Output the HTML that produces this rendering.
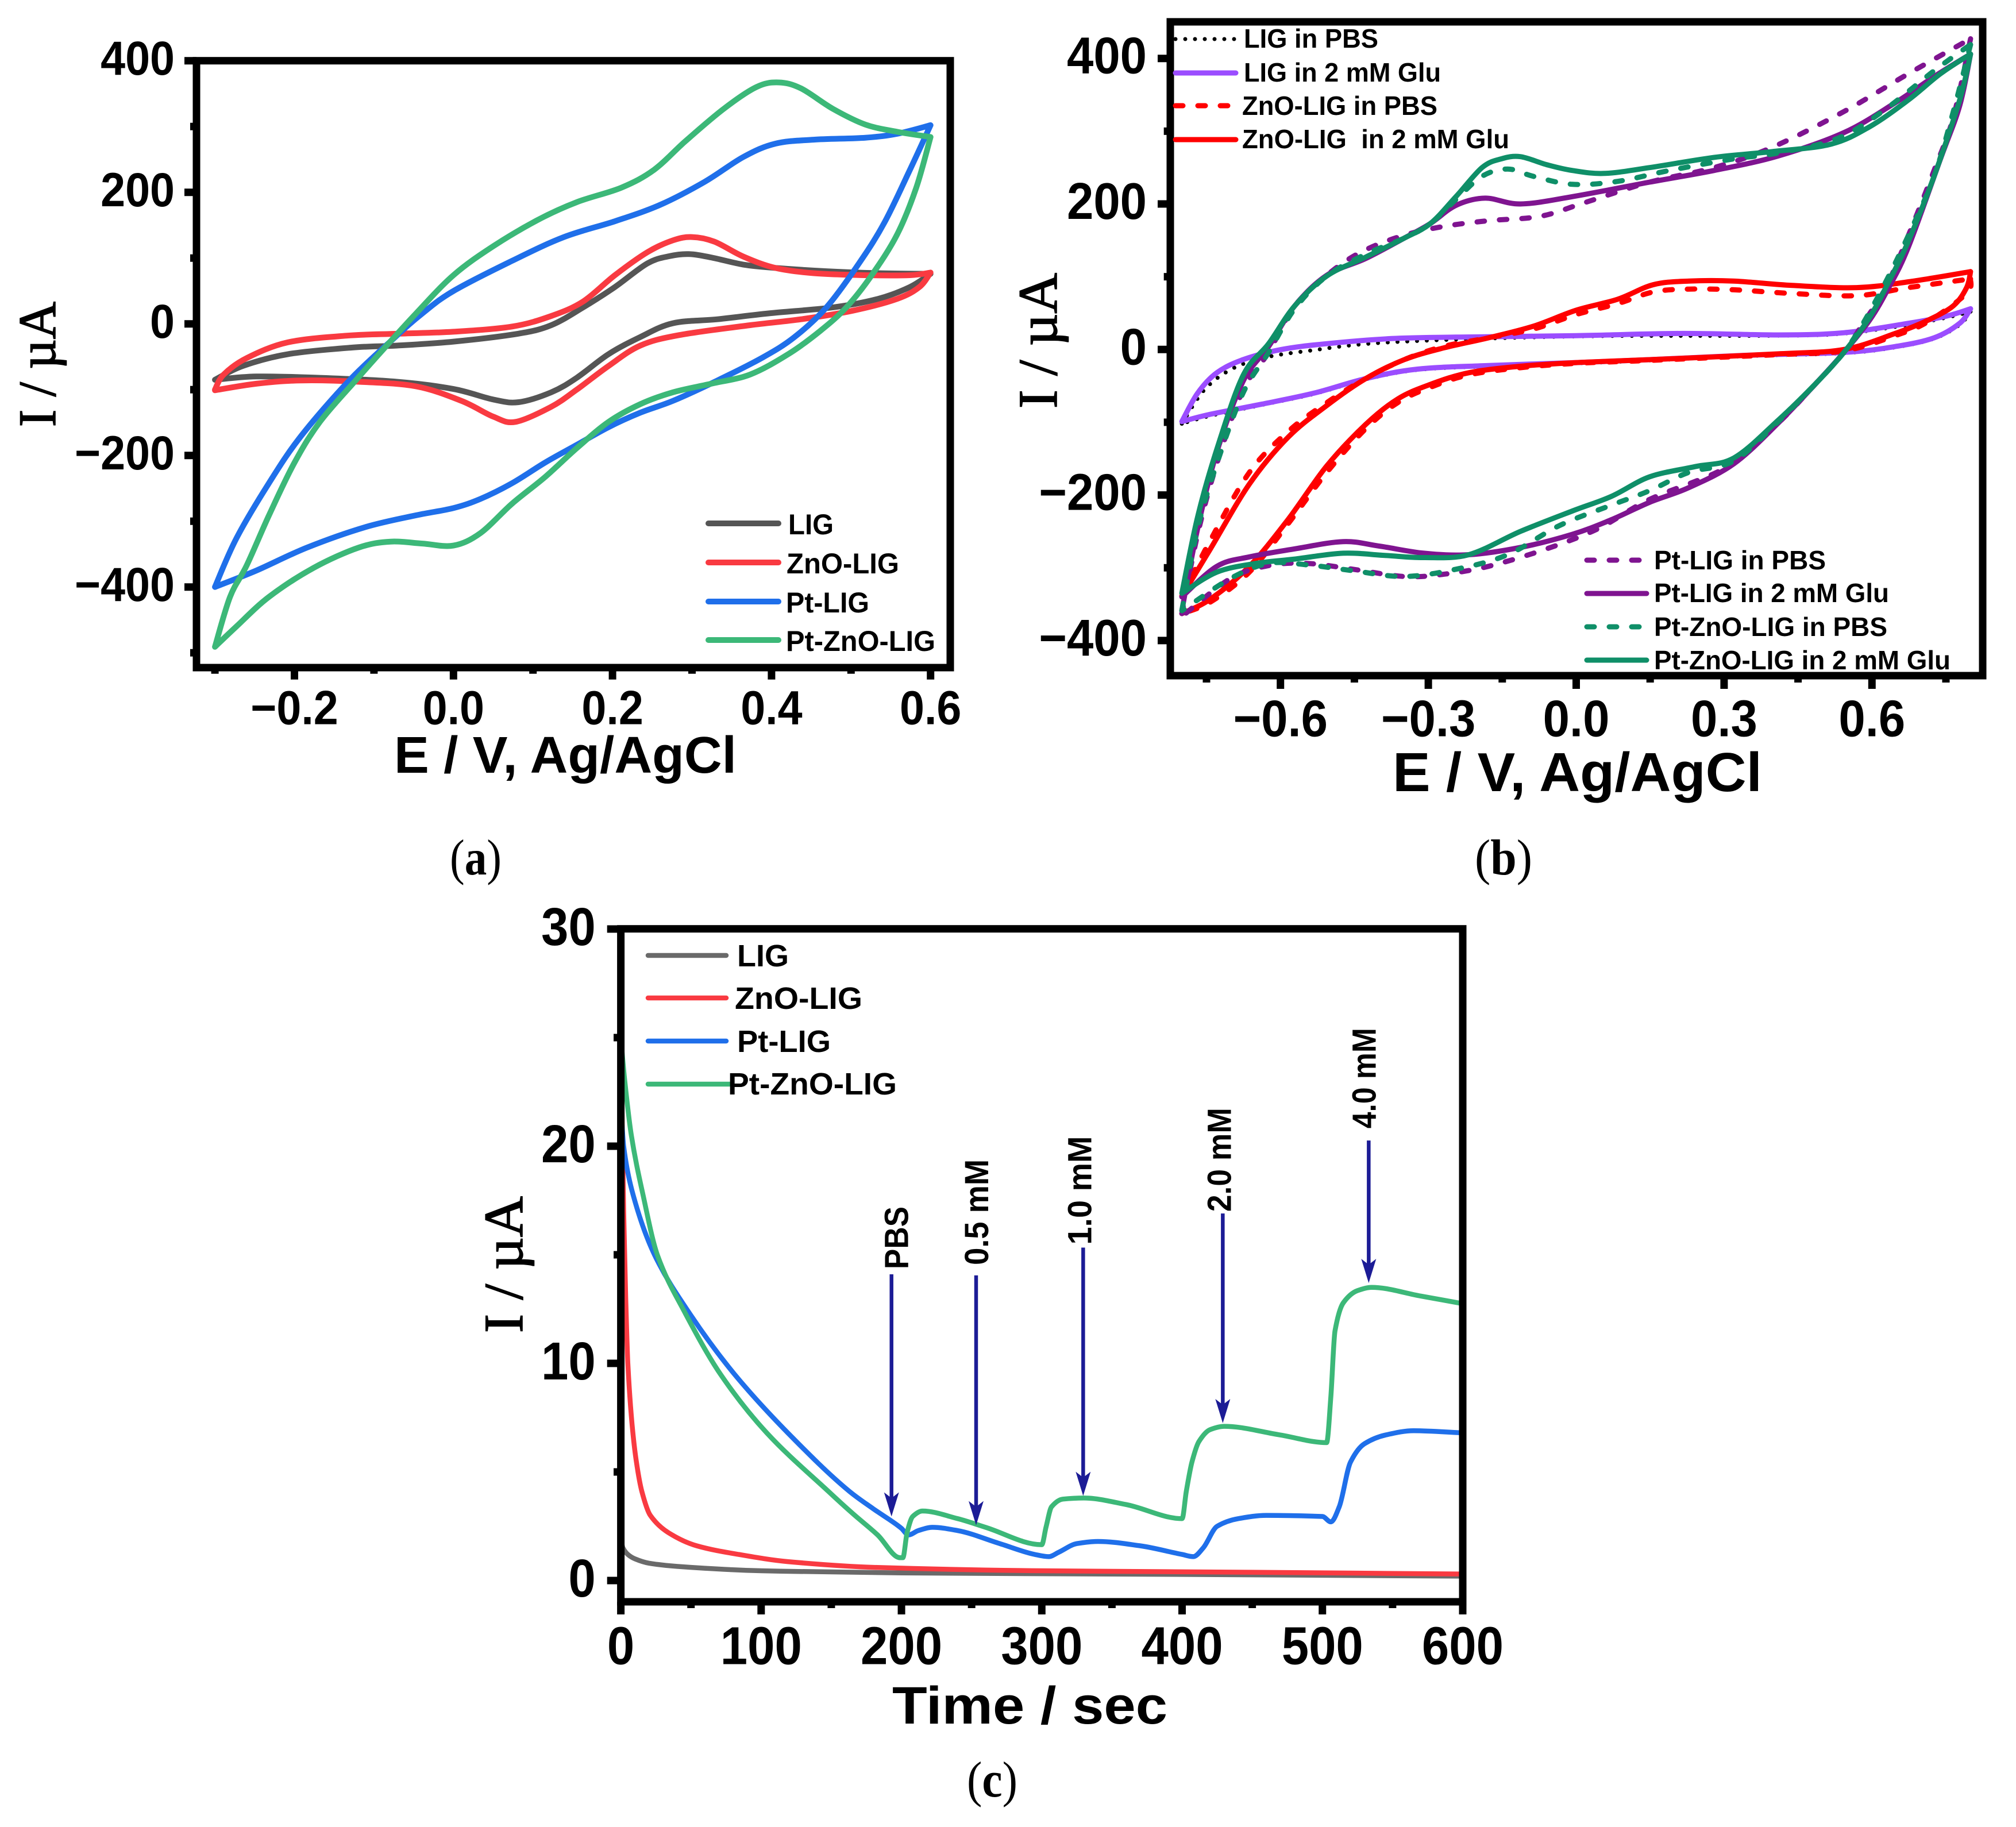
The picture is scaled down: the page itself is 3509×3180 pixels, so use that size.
<!DOCTYPE html>
<html lang="en">
<head>
<meta charset="utf-8">
<title>Cyclic voltammetry and chronoamperometry panels</title>
<style>
html,body{margin:0;padding:0;background:#fff;}
svg{display:block;}
text{font-family:"Liberation Sans",sans-serif;font-weight:700;fill:#000;}
.serif{font-family:"Liberation Serif",serif;}
.ytitle{font-weight:400;stroke:#000;stroke-width:1.6px;}
</style>
</head>
<body>
<svg id="fig" xmlns="http://www.w3.org/2000/svg" width="3509" height="3180" viewBox="0 0 3509 3180">
<rect width="3509" height="3180" fill="#fff"/>
<g id="panelA"></g>
<g id="panelB"></g>
<g id="panelC"></g>

<!-- Panel captions -->
<text class="serif" x="783" y="1522" font-size="88" textLength="90" lengthAdjust="spacingAndGlyphs" style="font-weight:400">(<tspan style="font-weight:700">a</tspan>)</text>
<text class="serif" x="2567" y="1522" font-size="88" textLength="100" lengthAdjust="spacingAndGlyphs" style="font-weight:400">(<tspan style="font-weight:700">b</tspan>)</text>
<text class="serif" x="1683" y="3127" font-size="88" textLength="88" lengthAdjust="spacingAndGlyphs" style="font-weight:400">(<tspan style="font-weight:700">c</tspan>)</text>

<!-- Axis titles -->
<text x="686" y="1345" font-size="90" textLength="596" lengthAdjust="spacingAndGlyphs">E / V, Ag/AgCl</text>
<text class="serif ytitle" transform="translate(96,743) rotate(-90)" font-size="92" textLength="218" lengthAdjust="spacingAndGlyphs">I / µA</text>
<text x="2424" y="1377" font-size="96" textLength="643" lengthAdjust="spacingAndGlyphs">E / V, Ag/AgCl</text>
<text class="serif ytitle" transform="translate(1839,711) rotate(-90)" font-size="96" textLength="236" lengthAdjust="spacingAndGlyphs">I / µA</text>
<text x="1553" y="3000" font-size="92" textLength="479" lengthAdjust="spacingAndGlyphs">Time / sec</text>
<text class="serif ytitle" transform="translate(909,2320) rotate(-90)" font-size="96" textLength="238" lengthAdjust="spacingAndGlyphs">I / µA</text>

<!-- Legend panel a -->
<g stroke-width="10" stroke-linecap="round" fill="none">
<line x1="1233" x2="1355" y1="911" y2="911" stroke="#555555"/>
<line x1="1233" x2="1355" y1="979" y2="979" stroke="#f93a41"/>
<line x1="1233" x2="1355" y1="1047" y2="1047" stroke="#1f6fea"/>
<line x1="1233" x2="1355" y1="1114" y2="1114" stroke="#3cb878"/>
</g>
<text x="1372" y="930" font-size="50" textLength="79" lengthAdjust="spacingAndGlyphs">LIG</text>
<text x="1369" y="998" font-size="50" textLength="196" lengthAdjust="spacingAndGlyphs">ZnO-LIG</text>
<text x="1368" y="1066" font-size="50" textLength="145" lengthAdjust="spacingAndGlyphs">Pt-LIG</text>
<text x="1368" y="1133" font-size="50" textLength="260" lengthAdjust="spacingAndGlyphs">Pt-ZnO-LIG</text>

<!-- Legend panel c -->
<g stroke-width="8.5" stroke-linecap="round" fill="none">
<line x1="1128" x2="1264" y1="1663" y2="1663" stroke="#6a6a6a"/>
<line x1="1128" x2="1264" y1="1737" y2="1737" stroke="#f93a41"/>
<line x1="1128" x2="1264" y1="1812" y2="1812" stroke="#1f6fea"/>
<line x1="1128" x2="1272" y1="1887" y2="1887" stroke="#3cb878"/>
</g>
<text x="1283" y="1682" font-size="54" textLength="90" lengthAdjust="spacingAndGlyphs">LIG</text>
<text x="1279" y="1756" font-size="54" textLength="222" lengthAdjust="spacingAndGlyphs">ZnO-LIG</text>
<text x="1283" y="1831" font-size="54" textLength="163" lengthAdjust="spacingAndGlyphs">Pt-LIG</text>
<text x="1267" y="1905" font-size="54" textLength="294" lengthAdjust="spacingAndGlyphs">Pt-ZnO-LIG</text>

<g id="legendB">
<line x1="2046" x2="2151" y1="68" y2="68" stroke="#000" stroke-width="7" stroke-linecap="round" stroke-dasharray="0 17"/>
<line x1="2046" x2="2151" y1="127" y2="127" stroke="#9b4dff" stroke-width="9" stroke-linecap="round"/>
<line x1="2046" x2="2142" y1="184" y2="184" stroke="#ff0000" stroke-width="9" stroke-linecap="round" stroke-dasharray="13 26"/>
<line x1="2046" x2="2151" y1="243" y2="243" stroke="#ff0000" stroke-width="9" stroke-linecap="round"/>
<text x="2165" y="83" font-size="46" textLength="234" lengthAdjust="spacingAndGlyphs">LIG in PBS</text>
<text x="2165" y="142" font-size="46" textLength="343" lengthAdjust="spacingAndGlyphs">LIG in 2 mM Glu</text>
<text x="2162" y="200" font-size="46" textLength="340" lengthAdjust="spacingAndGlyphs">ZnO-LIG in PBS</text>
<text x="2162" y="258" font-size="46" textLength="465" lengthAdjust="spacingAndGlyphs" xml:space="preserve">ZnO-LIG  in 2 mM Glu</text>
<line x1="2762" x2="2866" y1="975" y2="975" stroke="#7f1490" stroke-width="9" stroke-linecap="round" stroke-dasharray="13 26"/>
<line x1="2762" x2="2866" y1="1033" y2="1033" stroke="#7f1490" stroke-width="9" stroke-linecap="round"/>
<line x1="2762" x2="2866" y1="1091" y2="1091" stroke="#0f8f68" stroke-width="9" stroke-linecap="round" stroke-dasharray="13 26"/>
<line x1="2762" x2="2866" y1="1149" y2="1149" stroke="#0f8f68" stroke-width="9" stroke-linecap="round"/>
<text x="2879" y="991" font-size="46" textLength="299" lengthAdjust="spacingAndGlyphs">Pt-LIG in PBS</text>
<text x="2879" y="1048" font-size="46" textLength="409" lengthAdjust="spacingAndGlyphs">Pt-LIG in 2 mM Glu</text>
<text x="2879" y="1107" font-size="46" textLength="406" lengthAdjust="spacingAndGlyphs">Pt-ZnO-LIG in PBS</text>
<text x="2879" y="1165" font-size="46" textLength="516" lengthAdjust="spacingAndGlyphs">Pt-ZnO-LIG in 2 mM Glu</text>
</g>
</svg>

<script>
// ---------- Panel (a) data: potential (V) and current (uA), one closed cycle each ----------
const aLigE=[-0.3,-0.265,-0.208,-0.127,-0.071,0,0.081,0.123,0.163,0.203,0.244,0.272,0.296,0.324,0.365,0.405,0.469,0.534,0.6,0.574,0.534,0.477,0.397,0.332,0.276,0.235,0.195,0.155,0.123,0.082,0.05,0,-0.071,-0.168,-0.248,-0.3];
const aLigI=[-85,-64,-46,-36,-33,-27,-15,-2,25,56,92,103,106,101,90,85,80,77,76,56,38,25,16,7,1,-20,-46,-82,-104,-119,-115,-99,-88,-82,-80,-85];
const aZnoE=[-0.3,-0.289,-0.26,-0.208,-0.135,-0.071,0,0.074,0.123,0.163,0.203,0.244,0.276,0.3,0.328,0.365,0.405,0.453,0.518,0.574,0.6,0.586,0.558,0.502,0.437,0.373,0.284,0.235,0.195,0.155,0.123,0.078,0.05,0.01,-0.047,-0.119,-0.192,-0.248,-0.3];
const aZnoI=[-100,-77,-52,-28,-18,-15,-12,-4,12,34,74,109,127,132,125,102,85,77,74,74,78,56,38,20,7,-2,-17,-33,-64,-100,-126,-149,-141,-117,-95,-88,-86,-91,-101];
const aPtE=[-0.3,-0.273,-0.232,-0.192,-0.131,-0.075,-0.039,0,0.074,0.139,0.203,0.26,0.316,0.365,0.405,0.453,0.518,0.558,0.6,0.574,0.542,0.51,0.469,0.429,0.389,0.332,0.276,0.235,0.195,0.155,0.115,0.074,0.034,0,-0.047,-0.111,-0.184,-0.248,-0.3];
const aPtI=[-400,-326,-242,-171,-86,-22,16,50,96,132,156,181,216,254,274,280,283,289,302,234,154,92,25,-20,-51,-86,-117,-135,-157,-184,-211,-242,-266,-280,-291,-309,-340,-375,-400];
const aPtZnoE=[-0.3,-0.281,-0.26,-0.232,-0.2,-0.168,-0.123,-0.087,-0.047,0,0.05,0.106,0.155,0.211,0.252,0.292,0.34,0.381,0.409,0.437,0.477,0.518,0.558,0.6,0.582,0.558,0.526,0.494,0.461,0.421,0.373,0.324,0.276,0.235,0.195,0.155,0.115,0.074,0.034,0,-0.039,-0.079,-0.119,-0.176,-0.232,-0.273,-0.3];
const aPtZnoI=[-491,-415,-367,-291,-211,-149,-86,-37,16,74,118,158,185,207,234,278,327,360,367,358,327,303,292,284,207,136,74,25,-11,-46,-77,-91,-104,-122,-149,-189,-233,-273,-318,-337,-334,-331,-340,-371,-415,-460,-491];

// ---------- Panel (b) data ----------
const bLigPbsE=[-0.8,-0.755,-0.702,-0.637,-0.545,-0.375,0,0.41,0.543,0.674,0.752,0.8,0.778,0.726,0.647,0.543,0.346,0.149,0,-0.178,-0.322,-0.427,-0.532,-0.637,-0.742,-0.8];
const bLigPbsI=[-102,-56,-28,-12,-2,10,18,19,22,34,44,52,34,15,3,-5,-9,-15,-19,-23,-28,-41,-61,-76,-91,-102];
const bLigGluE=[-0.8,-0.768,-0.729,-0.676,-0.598,-0.506,-0.375,-0.244,0,0.215,0.41,0.543,0.674,0.752,0.8,0.778,0.726,0.647,0.543,0.346,0.149,0,-0.178,-0.322,-0.427,-0.532,-0.637,-0.742,-0.8];
const bLigGluI=[-99,-60,-32,-14,0,8,15,17,19,22,20,23,36,46,56,36,16,4,-4,-8,-14,-18,-22,-27,-40,-60,-75,-89,-99];
const bZnoPbsE=[-0.8,-0.742,-0.663,-0.585,-0.506,-0.427,-0.349,-0.27,-0.178,-0.087,0,0.084,0.156,0.228,0.32,0.438,0.569,0.674,0.8,0.792,0.713,0.647,0.543,0.41,0.149,0,-0.113,-0.218,-0.296,-0.362,-0.427,-0.506,-0.585,-0.663,-0.742,-0.8];
const bZnoPbsI=[-339,-262,-169,-113,-73,-40,-14,4,16,28,48,63,79,83,82,77,74,85,97,77,38,19,-2,-7,-15,-19,-25,-35,-52,-73,-109,-169,-240,-306,-347,-363];
const bZnoGluE=[-0.8,-0.742,-0.663,-0.585,-0.506,-0.427,-0.349,-0.27,-0.178,-0.087,0,0.084,0.156,0.228,0.32,0.438,0.569,0.674,0.8,0.792,0.765,0.713,0.647,0.543,0.41,0.149,0,-0.113,-0.218,-0.296,-0.362,-0.427,-0.506,-0.585,-0.663,-0.742,-0.8];
const bZnoGluI=[-339,-274,-185,-121,-77,-40,-14,2,16,32,54,69,89,94,94,88,85,93,107,85,60,40,22,0,-6,-14,-18,-23,-32,-48,-68,-103,-160,-234,-298,-343,-363];
const bPtPbsE=[-0.8,-0.768,-0.729,-0.676,-0.624,-0.571,-0.493,-0.427,-0.349,-0.27,-0.178,-0.073,0.018,0.149,0.28,0.398,0.543,0.674,0.8,0.765,0.726,0.674,0.628,0.582,0.543,0.49,0.41,0.307,0.149,0.045,-0.06,-0.178,-0.27,-0.349,-0.453,-0.545,-0.624,-0.702,-0.8];
const bPtPbsI=[-363,-254,-157,-56,-4,60,109,137,157,169,177,183,202,230,250,278,327,379,427,319,246,157,85,36,-4,-44,-101,-161,-206,-246,-274,-298,-309,-312,-302,-294,-297,-315,-367];
const bPtGluE=[-0.8,-0.768,-0.729,-0.676,-0.624,-0.571,-0.506,-0.427,-0.349,-0.296,-0.244,-0.185,-0.113,-0.008,0.149,0.28,0.41,0.543,0.647,0.726,0.8,0.778,0.739,0.674,0.634,0.595,0.543,0.49,0.41,0.32,0.228,0.149,0.071,-0.008,-0.113,-0.218,-0.309,-0.401,-0.473,-0.571,-0.663,-0.729,-0.8];
const bPtGluI=[-359,-246,-141,-44,4,60,102,125,153,173,198,208,200,210,230,246,266,298,339,375,406,335,262,141,85,40,-4,-44,-101,-157,-190,-210,-234,-254,-272,-282,-280,-270,-264,-274,-285,-298,-340];
const bPtZnoPbsE=[-0.8,-0.768,-0.729,-0.676,-0.624,-0.571,-0.506,-0.427,-0.349,-0.296,-0.244,-0.191,-0.139,-0.087,-0.008,0.084,0.189,0.32,0.41,0.53,0.621,0.726,0.8,0.765,0.726,0.674,0.628,0.582,0.543,0.49,0.41,0.32,0.228,0.149,0.071,-0.034,-0.139,-0.244,-0.349,-0.453,-0.545,-0.624,-0.702,-0.8];
const bPtZnoPbsI=[-359,-246,-157,-60,-4,56,101,131,153,173,206,238,248,238,227,231,246,262,270,290,327,383,419,327,238,157,93,36,-4,-44,-99,-153,-169,-194,-214,-242,-282,-302,-312,-304,-296,-294,-315,-359];
const bPtZnoGluE=[-0.8,-0.768,-0.729,-0.676,-0.624,-0.571,-0.506,-0.427,-0.349,-0.296,-0.244,-0.191,-0.152,-0.113,-0.06,-0.008,0.058,0.149,0.28,0.398,0.516,0.595,0.674,0.739,0.8,0.778,0.726,0.674,0.634,0.595,0.543,0.49,0.41,0.32,0.241,0.149,0.071,-0.008,-0.113,-0.218,-0.309,-0.388,-0.473,-0.571,-0.65,-0.729,-0.8];
const bPtZnoGluI=[-335,-230,-137,-36,8,60,101,127,153,173,210,250,262,265,254,246,242,250,264,272,282,306,343,379,406,343,238,149,93,44,-4,-44,-97,-149,-161,-175,-202,-222,-250,-282,-286,-283,-280,-288,-294,-306,-335];

// ---------- Panel (c) data: time (s) and current (uA) ----------
const cLigT=[0,0.5,1.5,5,10,20,40,100,200,400,600];
const cLigI=[1.7,1.7,1.5,1.2,1.0,0.8,0.65,0.45,0.35,0.28,0.2];
const cZnoT=[0.3,1,2,3.5,5,8,11,15,21,34,54,84,119,183,300,450,600];
const cZnoI=[25,21,17,13,10,7.2,5.5,4.1,3,2.2,1.6,1.2,0.87,0.6,0.45,0.38,0.3];
const cPtT=[0,2,9,24,49,81,119,163,180,196,200,205,212,222,240,270,295,305,312,325,340,370,400,408,415,425,440,460,500,506,512,520,530,545,565,600];
const cPtI=[22,20,17.7,15,12.3,9.5,6.8,4.1,3.3,2.6,2.4,2.1,2.3,2.45,2.3,1.7,1.2,1.1,1.3,1.7,1.8,1.6,1.2,1.1,1.5,2.5,2.85,3.0,2.95,2.7,3.4,5.45,6.3,6.7,6.9,6.8];
const cPtZnoT=[0,2.5,7.5,16,26,46,71,104,148,165,183,199,201,204,208,215,240,260,300,303,307,315,330,360,400,403,407,412,420,430,470,503,506,509,515,525,535,570,600];
const cPtZnoI=[25,23.2,20.5,17.7,15,12.3,9.5,6.8,4.1,3.1,2.1,1.05,1.05,2.2,2.95,3.2,2.85,2.45,1.65,2.45,3.4,3.75,3.8,3.5,2.85,4.1,5.45,6.4,6.95,7.1,6.7,6.35,8.45,11.5,12.8,13.35,13.5,13.1,12.75];
const cArrowLabels=['PBS','0.5 mM','1.0 mM','2.0 mM','4.0 mM'];
const cArrowT=[192.9,253.2,329.5,429,533];
const cArrowFromI=[14.1,14.05,15.33,16.9,20.26];
const cArrowToI=[2.95,2.55,3.9,7.25,13.7];

// ---------- Tick values and labels ----------
const aXTicks=[-0.2,0,0.2,0.4,0.6];
const aXTickLabels=['\u22120.2','0.0','0.2','0.4','0.6'];
const aXMinor=[-0.3,-0.1,0.1,0.3,0.5];
const aYTicks=[400,200,0,-200,-400];
const aYTickLabels=['400','200','0','\u2212200','\u2212400'];
const aYMinor=[300,100,-100,-300,-500];
const bXTicks=[-0.6,-0.3,0,0.3,0.6];
const bXTickLabels=['\u22120.6','\u22120.3','0.0','0.3','0.6'];
const bXMinor=[-0.75,-0.45,-0.15,0.15,0.45,0.75];
const bYTicks=[400,200,0,-200,-400];
const bYTickLabels=['400','200','0','\u2212200','\u2212400'];
const bYMinor=[300,100,-100,-300];
const cXTicks=[0,100,200,300,400,500,600];
const cXTickLabels=['0','100','200','300','400','500','600'];
const cXMinor=[50,150,250,350,450,550];
const cYTicks=[30,20,10,0];
const cYTickLabels=['30','20','10','0'];
const cYMinor=[25,15,5];

// ---------- Axis functions ----------
const ax=v=>789.3+v*1384, ay=v=>563.7-v*1.145;
const bx=v=>2743.5+v*858, by=v=>608.3-v*1.2665;
const cx=v=>1080.6+v*2.4423, cy=v=>2751-v*37.8;

const NS='http://www.w3.org/2000/svg';
function mk(parent,tag,attrs,name){
  const el=document.createElementNS(NS,tag);
  for(const k in attrs){el.setAttribute(k,attrs[k]);}
  
  
  parent.appendChild(el);
  return el;
}
function spline(pts){
  let d='M'+pts[0][0].toFixed(1)+' '+pts[0][1].toFixed(1);
  for(let i=0;i<pts.length-1;i++){
    const p0=pts[Math.max(i-1,0)],p1=pts[i],p2=pts[i+1],p3=pts[Math.min(i+2,pts.length-1)];
    const c1=[p1[0]+(p2[0]-p0[0])/6,p1[1]+(p2[1]-p0[1])/6];
    const c2=[p2[0]-(p3[0]-p1[0])/6,p2[1]-(p3[1]-p1[1])/6];
    d+='C'+c1[0].toFixed(1)+' '+c1[1].toFixed(1)+' '+c2[0].toFixed(1)+' '+c2[1].toFixed(1)+' '+p2[0].toFixed(1)+' '+p2[1].toFixed(1);
  }
  return d;
}
function cyclePath(E,I,fx,fy){
  let turn=0;
  E.forEach((v,i)=>{if(v>E[turn])turn=i;});
  const pts=E.map((v,i)=>[fx(v),fy(I[i])]);
  return spline(pts.slice(0,turn+1))+spline(pts.slice(turn));
}
// Monotone-x cubic for the time traces
function monoPath(T,I,fx,fy){
  const x=T.map(fx),y=I.map(fy),n=x.length,s=[],m=[];
  for(let i=0;i<n-1;i++){s.push((y[i+1]-y[i])/(x[i+1]-x[i]));}
  m[0]=s[0];m[n-1]=s[n-2];
  for(let i=1;i<n-1;i++){
    m[i]=(s[i-1]*s[i]<=0)?0:2*s[i-1]*s[i]/(s[i-1]+s[i]);
  }
  let d='M'+x[0].toFixed(1)+' '+y[0].toFixed(1);
  for(let i=0;i<n-1;i++){
    const h=(x[i+1]-x[i])/3;
    d+='C'+(x[i]+h).toFixed(1)+' '+(y[i]+m[i]*h).toFixed(1)+' '+(x[i+1]-h).toFixed(1)+' '+(y[i+1]-m[i+1]*h).toFixed(1)+' '+x[i+1].toFixed(1)+' '+y[i+1].toFixed(1);
  }
  return d;
}
function drawAxes(g,prefix,o){
  o.xMinor.forEach(v=>{
    mk(g,'line',{x1:o.fx(v),x2:o.fx(v),y1:o.bottom,y2:o.xMinorEnd,stroke:'#000','stroke-width':13},prefix+'-x-minor-tick');
  });
  o.yMinor.forEach(v=>{
    mk(g,'line',{x1:o.left,x2:o.yMinorEnd,y1:o.fy(v),y2:o.fy(v),stroke:'#000','stroke-width':13},prefix+'-y-minor-tick');
  });
  o.xTicks.forEach((v,i)=>{
    mk(g,'line',{x1:o.fx(v),x2:o.fx(v),y1:o.bottom,y2:o.xMajorEnd,stroke:'#000','stroke-width':13},prefix+'-x-tick');
    const t=mk(g,'text',{transform:'translate('+o.fx(v)+','+o.xLabelY+') scale('+o.sx+',1)','font-size':o.fs,'text-anchor':'middle'},prefix+'-x-tick-label');
    t.textContent=o.xLabels[i];
  });
  o.yTicks.forEach((v,i)=>{
    mk(g,'line',{x1:o.left,x2:o.yMajorEnd,y1:o.fy(v),y2:o.fy(v),stroke:'#000','stroke-width':13},prefix+'-y-tick');
    const t=mk(g,'text',{transform:'translate('+o.yLabelX+','+(o.fy(v)+o.yLabelOff)+') scale('+o.sx+',1)','font-size':o.fs,'text-anchor':'end'},prefix+'-y-tick-label');
    t.textContent=o.yLabels[i];
  });
  mk(g,'rect',{x:o.left,y:o.top,width:o.right-o.left,height:o.bottom-o.top,fill:'none',stroke:'#000','stroke-width':13},prefix+'-plot-frame');
}

// ---------- Panel (a) ----------
const gA=document.getElementById('panelA');
[[aLigE,aLigI,'#555555','a-curve-lig'],[aZnoE,aZnoI,'#f93a41','a-curve-zno-lig'],[aPtE,aPtI,'#1f6fea','a-curve-pt-lig'],[aPtZnoE,aPtZnoI,'#3cb878','a-curve-pt-zno-lig']].forEach(s=>{
  mk(gA,'path',{d:cyclePath(s[0],s[1],ax,ay),fill:'none',stroke:s[2],'stroke-width':10,'stroke-linecap':'round','stroke-linejoin':'round'},s[3]);
});
drawAxes(gA,'a',{fx:ax,fy:ay,left:342,right:1654,top:105.7,bottom:1162,xTicks:aXTicks,xLabels:aXTickLabels,xMinor:aXMinor,yTicks:aYTicks,yLabels:aYTickLabels,yMinor:aYMinor,xMajorEnd:1182.7,xMinorEnd:1172.7,yMajorEnd:321,yMinorEnd:331,xLabelY:1260.7,yLabelX:304,yLabelOff:24.3,fs:84,sx:0.92});

// ---------- Panel (b) ----------
const gB=document.getElementById('panelB');
const dash='13 26';
[[bLigPbsE,bLigPbsI,'#000000','0 17',7,'b-curve-lig-pbs'],[bLigGluE,bLigGluI,'#9b4dff','',9,'b-curve-lig-glu'],[bZnoPbsE,bZnoPbsI,'#ff0000',dash,9,'b-curve-zno-pbs'],[bZnoGluE,bZnoGluI,'#ff0000','',9,'b-curve-zno-glu'],[bPtPbsE,bPtPbsI,'#7f1490',dash,9,'b-curve-pt-pbs'],[bPtGluE,bPtGluI,'#7f1490','',9,'b-curve-pt-glu'],[bPtZnoPbsE,bPtZnoPbsI,'#0f8f68',dash,9,'b-curve-pt-zno-pbs'],[bPtZnoGluE,bPtZnoGluI,'#0f8f68','',9,'b-curve-pt-zno-glu']].forEach(s=>{
  const attrs={d:cyclePath(s[0],s[1],bx,by),fill:'none',stroke:s[2],'stroke-width':s[4],'stroke-linecap':'round','stroke-linejoin':'round'};
  if(s[3]){attrs['stroke-dasharray']=s[3];}
  mk(gB,'path',attrs,s[5]);
});
drawAxes(gB,'b',{fx:bx,fy:by,left:2037,right:3451,top:38,bottom:1176,xTicks:bXTicks,xLabels:bXTickLabels,xMinor:bXMinor,yTicks:bYTicks,yLabels:bYTickLabels,yMinor:bYMinor,xMajorEnd:1199,xMinorEnd:1188,yMajorEnd:2015,yMinorEnd:2025.7,xLabelY:1281.7,yLabelX:1996,yLabelOff:26,fs:90,sx:0.926});

// ---------- Panel (c) ----------
const gC=document.getElementById('panelC');
[[cLigT,cLigI,'#6a6a6a','c-trace-lig'],[cZnoT,cZnoI,'#f93a41','c-trace-zno-lig'],[cPtT,cPtI,'#1f6fea','c-trace-pt-lig'],[cPtZnoT,cPtZnoI,'#3cb878','c-trace-pt-zno-lig']].forEach(s=>{
  mk(gC,'path',{d:monoPath(s[0],s[1],cx,cy),fill:'none',stroke:s[2],'stroke-width':8.5,'stroke-linejoin':'round'},s[3]);
});
drawAxes(gC,'c',{fx:cx,fy:cy,left:1080.6,right:2546,top:1616.7,bottom:2788,xTicks:cXTicks,xLabels:cXTickLabels,xMinor:cXMinor,yTicks:cYTicks,yLabels:cYTickLabels,yMinor:cYMinor,xMajorEnd:2810,xMinorEnd:2799,yMajorEnd:1056.7,yMinorEnd:1068,xLabelY:2896.7,yLabelX:1036.7,yLabelOff:28,fs:93,sx:0.916});

const labelLens=[109,184,189,181,175];
const labelGaps=[9,18,5,3,21];
const labelOffsets=[29,21,14,14,12];
cArrowLabels.forEach((lab,i)=>{
  const x=cx(cArrowT[i]),y1=cy(cArrowFromI[i]),y2=cy(cArrowToI[i]);
  mk(gC,'line',{x1:x,x2:x,y1:y1,y2:y2-24,stroke:'#1c1c96','stroke-width':6.5},'c-arrow-shaft');
  mk(gC,'path',{d:'M'+x+' '+y2+'L'+(x-13)+' '+(y2-42)+'L'+x+' '+(y2-32)+'L'+(x+13)+' '+(y2-42)+'Z',fill:'#1c1c96'},'c-arrow-head');
  const t=mk(gC,'text',{transform:'translate('+(x+labelOffsets[i])+','+(y1-labelGaps[i])+') rotate(-90)','font-size':58,textLength:labelLens[i],lengthAdjust:'spacingAndGlyphs'},'c-arrow-label');
  t.textContent=lab;
});
</script>
</body>
</html>
